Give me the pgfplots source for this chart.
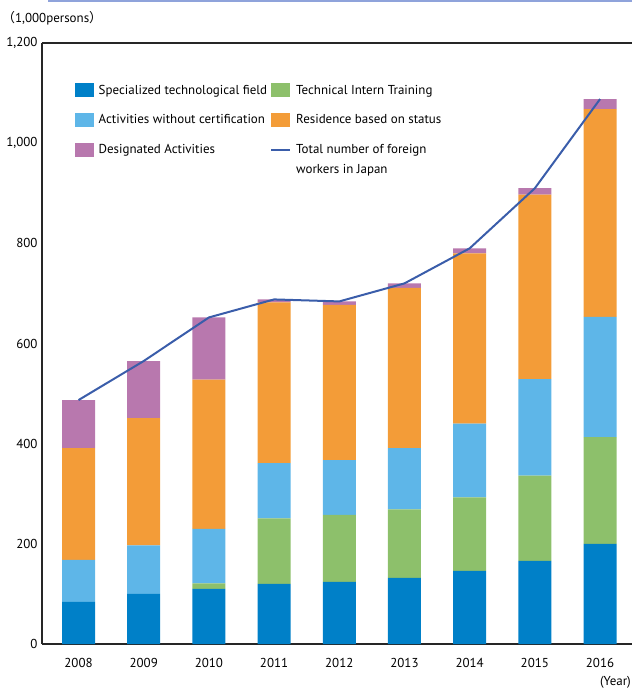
\documentclass[border=0pt]{standalone}
\usepackage{fontspec}
\setmainfont{PT Sans}
\newfontfamily\cjk{Noto Sans CJK JP}
\usepackage{pgfplots}
\pgfplotsset{compat=1.18}
\usetikzlibrary{calc}

\definecolor{cBlue}{HTML}{0080C8}
\definecolor{cLBlue}{HTML}{5EB6E8}
\definecolor{cGreen}{HTML}{8DC06B}
\definecolor{cOrange}{HTML}{F39C38}
\definecolor{cPurple}{HTML}{B878AE}
\definecolor{cLine}{HTML}{3A5DAA}
\definecolor{cRule}{HTML}{8FA3DB}

\pgfplotstableread{
x year blue green lblue orange purple total
0 2008 84 0 84 223 96 487
1 2009 100 0 97 254 114 565
2 2010 110 11 109 298 124 652
3 2011 120 131 110 321 6 688
4 2012 124 134 109 310 7 684
5 2013 132 137 122 320 9 720
6 2014 146 147 147 340 10 790
7 2015 166 170 193 368 13 910
8 2016 200 213 240 415 20 1088
}\workers

\begin{document}
\begin{tikzpicture}[font=\fontsize{13}{15}\selectfont]
\pgfplotsset{
  common/.style={
    scale only axis,
    width=590bp, height=601bp,
    at={(0,0)}, anchor=south west,
    xmin=-0.56, xmax=8.49,
    ymin=0, ymax=1200,
  },
  barleg/.style={legend image code/.code={\fill[##1] (0bp,-7bp) rectangle (19bp,7bp);}},
}
\path[use as bounding box] (-42bp,-45bp) rectangle (590bp,644bp);
\begin{axis}[
  common,
  ybar stacked,
  bar width=33bp,
  axis x line=box,
  axis y line=left,
  axis line style={line width=1.4bp, black!85},
  x axis line style={-},
  y axis line style={-},
  xtick=data,
  xticklabels from table={\workers}{year},
  ytick={0,200,...,1200},
  major tick length=0pt,
  /pgf/number format/assume math mode=true,
  /pgf/number format/1000 sep={,},
  xticklabel style={yshift=-11bp},
  yticklabel style={xshift=-1bp},
  legend columns=2,
  legend style={draw=none, fill=none, at={(0.05,0.937)}, anchor=north west,
    cells={anchor=west},
    /tikz/every odd column/.append style={column sep=3bp},
    /tikz/every even column/.append style={column sep=1bp},
    /tikz/row sep=15bp},
]
\addplot[fill=cBlue, draw=none, barleg] table[x=x, y=blue] {\workers};
\addlegendentry{Specialized technological field}
\addplot[fill=cGreen, draw=none, barleg] table[x=x, y=green] {\workers};
\addlegendentry{Technical Intern Training}
\addplot[fill=cLBlue, draw=none, barleg] table[x=x, y=lblue] {\workers};
\addlegendentry{Activities without certification}
\addplot[fill=cOrange, draw=none, barleg] table[x=x, y=orange] {\workers};
\addlegendentry{Residence based on status}
\addplot[fill=cPurple, draw=none, barleg] table[x=x, y=purple] {\workers};
\addlegendentry{Designated Activities}
\addlegendimage{legend image code/.code={\draw[cLine, line width=2bp] (0bp,0bp) -- (19bp,0bp);}}
\addlegendentry{\makebox[0pt][l]{\raisebox{-20bp}[0pt][0pt]{workers in Japan}}Total number of foreign}
\end{axis}
\begin{axis}[common, hide axis]
\addplot[cLine, line width=2bp, no marks] table[x=x, y=total] {\workers};
\end{axis}
\draw[cRule, line width=1.5bp] (6bp,643.2bp) -- (590bp,643.2bp);
\node[anchor=west, inner sep=0pt] at (-40bp,626bp) {{\cjk （}1,000persons{\cjk ）}};
\node[anchor=east, inner sep=0pt] at (589bp,-38bp) {(Year)};
\end{tikzpicture}
\end{document}
